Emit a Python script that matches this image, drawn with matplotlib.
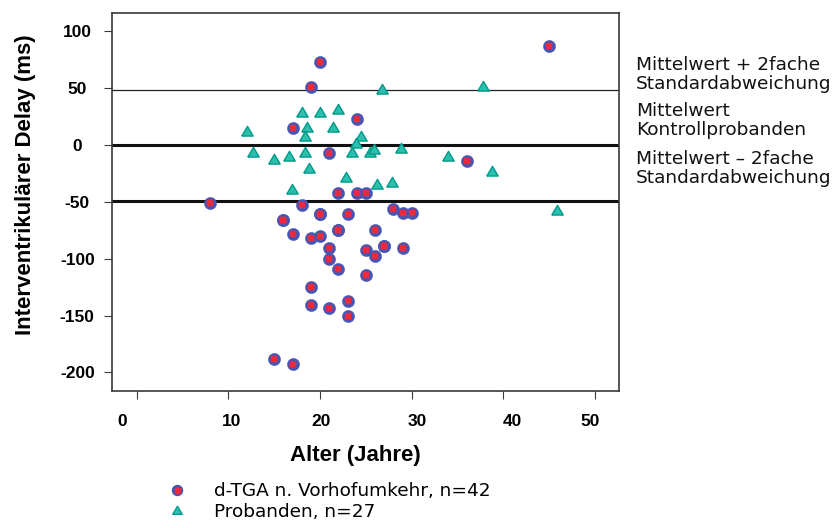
import matplotlib
matplotlib.use("Agg")
import matplotlib.pyplot as plt
from matplotlib.lines import Line2D
from matplotlib.legend_handler import HandlerTuple
from matplotlib.transforms import ScaledTranslation

# d-TGA patients after atrial switch: age (years) and interventricular delay (ms)
tga_age = [20, 19, 17, 24, 21, 22, 24, 25, 8, 18, 20, 23, 16, 17, 19, 20, 22, 26,
           21, 21, 22, 25, 25, 19, 19, 21, 23, 23, 15, 17, 28, 29, 30, 26, 27, 29,
           45, 36, 16, 20, 22, 27]
tga_delay = [73, 51, 15, 23, -7, -42, -42, -42, -51, -53, -61, -61, -66, -78, -82, -80, -75, -75,
             -91, -100, -109, -92, -114, -125, -141, -143, -137, -150, -188, -193, -56, -60, -60,
             -98, -89, -91, 87, -14, -66, -61, -75, -89]

# Healthy controls
prob_age = [12, 12.7, 15, 16.6, 18, 20, 22, 18.6, 21.4, 18.4, 18.4, 18.8, 16.9, 22.8,
            24.5, 23.9, 23.5, 25.4, 25.9, 26.8, 37.8, 28.8, 33.9, 38.8, 26.2, 27.8, 45.8]
prob_delay = [12, -6, -12, -10, 29, 29, 32, 16, 16, 8, -6, -20, -39, -28,
              8, 2, -6, -6, -3.5, 49, 52, -3, -10, -23, -34.5, -32.6, -57]

# Control-group mean and +/- 2 standard deviations (ms)
ref_plus2sd = 48.5
ref_mean = 0
ref_minus2sd = -49

x_ticks = [0, 10, 20, 30, 40, 50]
y_ticks = [100, 50, 0, -50, -100, -150, -200]

legend_labels = ["d-TGA n. Vorhofumkehr, n=42", "Probanden, n=27"]
ref_texts = ["Mittelwert + 2fache\nStandardabweichung",
             "Mittelwert\nKontrollprobanden",
             "Mittelwert \u2013 2fache\nStandardabweichung"]

W, H = 840, 528
fig = plt.figure(figsize=(W / 100, H / 100), dpi=100)
ax = fig.add_axes([111.7 / W, 1 - 391 / H, (619 - 111.7) / W, (391 - 12.7) / H])

blue = "#4655b4"
red = "#ec2a3c"
teal_face = "#2cbfae"
teal_edge = "#009a8a"
spine_col = "#3a3a3a"

ax.set_xlim(-2.73, 52.6)
ax.set_ylim(-216.4, 116.4)

# reference lines
ax.axhline(ref_plus2sd, color="#222222", lw=0.9, zorder=1)
ax.axhline(ref_mean, color="#111111", lw=2.2, zorder=1)
ax.axhline(ref_minus2sd, color="#111111", lw=2.2, zorder=1)

tri = [(-1, -0.8), (1, -0.8), (0, 0.9), (-1, -0.8)]

ax.plot(prob_age, prob_delay, linestyle="none", marker=tri, ms=8.2,
        mfc=teal_face, mec=teal_edge, mew=1.0, zorder=3)
ax.plot(tga_age, tga_delay, linestyle="none", marker="o", ms=8.8,
        mfc=blue, mec=blue, mew=0.3, zorder=4)
ax.plot(tga_age, tga_delay, linestyle="none", marker="s", ms=4.6,
        mfc=red, mec=red, mew=0.3, zorder=5)

for s in ax.spines.values():
    s.set_color(spine_col)
    s.set_linewidth(1.2)

ax.set_xticks(x_ticks)
ax.set_yticks(y_ticks)
ax.set_xticklabels([str(t) for t in x_ticks], fontfamily="Liberation Sans",
                   fontweight="bold", fontsize=12.5)
ax.set_yticklabels([str(t) for t in y_ticks], fontfamily="Liberation Sans",
                   fontweight="bold", fontsize=12.5, ha="center")
ax.tick_params(axis="both", direction="out", length=5.8, width=0.8, color=spine_col,
               top=False, right=False)
ax.tick_params(axis="x", pad=11)
ax.tick_params(axis="y", pad=19)

# x tick labels sit slightly off their ticks
x_label_shift_px = [-15, 3, 1, 5, 9, -5]
for lab, dx in zip(ax.get_xticklabels(), x_label_shift_px):
    lab.set_transform(lab.get_transform() + ScaledTranslation(dx / 100, 0, fig.dpi_scale_trans))

fig.text(355.5 / W, 1 - 455 / H, "Alter (Jahre)", fontfamily="Liberation Sans",
         fontweight="bold", fontsize=16, ha="center", va="center")
fig.text(26 / W, 1 - 185 / H, "Interventrikul\u00e4rer Delay (ms)", fontfamily="Liberation Sans",
         fontweight="bold", fontsize=16, ha="center", va="center", rotation=90)

# labels of the reference lines (two-line blocks)
block_y_px = [74.5, 120.5, 168.7]
for txt, yp in zip(ref_texts, block_y_px):
    fig.text(636 / W, 1 - yp / H, txt, fontfamily="DejaVu Sans", fontsize=13.3,
             ha="left", va="center", color="#111111", linespacing=1.07,
             multialignment="left")

h_circ = Line2D([], [], linestyle="none", marker="o", ms=7.2, mfc=blue, mec=blue)
h_sq = Line2D([], [], linestyle="none", marker="s", ms=3.6, mfc=red, mec=red)
h_tri = Line2D([], [], linestyle="none", marker=tri, ms=7.0, mfc=teal_face,
               mec=teal_edge, mew=0.9)
fig.legend([(h_circ, h_sq), h_tri], legend_labels,
           handler_map={tuple: HandlerTuple(ndivide=1)},
           loc="center left", bbox_to_anchor=(167.3 / W, 1 - 501.5 / H),
           frameon=False, borderpad=0, borderaxespad=0, handlelength=1.0,
           handletextpad=1.55, labelspacing=0.12,
           prop={"family": "DejaVu Sans", "size": 13.3})

fig.savefig("out.png", dpi=100)
